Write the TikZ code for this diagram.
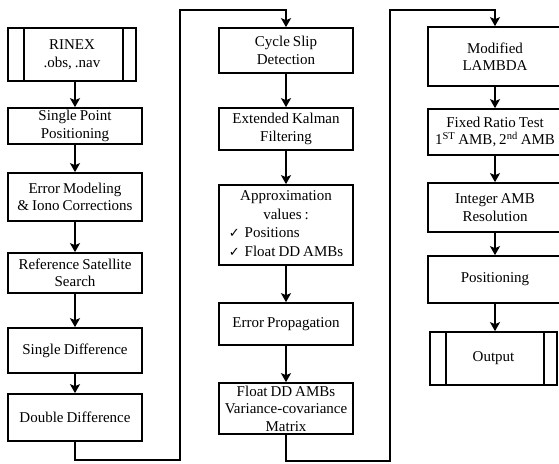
\documentclass[tikz,border=0pt]{standalone}
\usepackage{fontspec}
\setmainfont{Liberation Serif}
\newfontfamily\checkfont{DejaVu Sans}
\usetikzlibrary{arrows.meta}
\newcommand{\chk}{{\checkfont\fontsize{13}{17}\selectfont ✓}\hspace{5pt}}
\newcommand{\boxfont}{\fontsize{15}{17.5}\selectfont\setlength{\spaceskip}{3pt plus 1pt}}
\begin{document}
\begin{tikzpicture}[x=1pt,y=-1pt,
 box/.style={draw,line width=1.7pt,inner sep=0pt,align=center,minimum width=134pt,
   font=\boxfont},
 arr/.style={line width=2.4pt,-{Stealth[length=9pt,width=10pt,inset=2pt]}},
 sidebar/.style={line width=1.7pt}
]
\useasboundingbox (0,0) rectangle (559,463);

% column 1
\node[box, minimum width=128pt, minimum height=53pt] (rinex) at (72,54.5) {RINEX\\.obs, .nav};
\node[box, minimum height=36pt] (spp) at (75,126) {Single Point\\Positioning};
\node[box, minimum height=48pt] (err) at (75,197) {Error Modeling\\\& Iono Corrections};
\node[box, minimum height=40pt] (ref) at (75,273) {Reference Satellite\\Search};
\node[box, minimum height=45pt] (sd) at (75,350.5) {Single Difference};
\node[box, minimum height=47pt] (dd) at (75,417.5) {Double Difference};
\draw[sidebar] ([xshift=17pt]rinex.north west) -- ([xshift=17pt]rinex.south west);
\draw[sidebar] ([xshift=-14pt]rinex.north east) -- ([xshift=-14pt]rinex.south east);

% column 2
\node[box, minimum height=45pt] (cs) at (286,50.5) {Cycle Slip\\Detection};
\node[box, minimum height=42pt] (ekf) at (286,129) {Extended Kalman\\Filtering};
\node[box, minimum height=80pt] (apx) at (286,225) {\begin{tabular}{@{}l@{}}
  \multicolumn{1}{@{}c@{}}{Approximation}\\[1pt]
  \multicolumn{1}{@{}c@{}}{values :}\\[1pt]
  \chk Positions\\[1pt]
  \chk Float DD AMBs
\end{tabular}};
\node[box, minimum height=42pt] (ep) at (286,324) {Error Propagation};
\node[box, minimum height=51pt] (fdd) at (286,408.5) {Float DD AMBs\\Variance-covariance\\Matrix};

% column 3
\node[box, minimum height=59pt] (lam) at (495,56.5) {Modified\\LAMBDA};
\node[box, minimum height=46pt] (frt) at (495,132) {Fixed Ratio Test\\1\textsuperscript{ST} AMB, 2\textsuperscript{nd} AMB};
\node[box, minimum height=49pt] (int) at (495,207.5) {Integer AMB\\Resolution};
\node[box, minimum height=47pt] (pos) at (495,279.5) {Positioning};
\node[box, minimum width=127pt, minimum height=53pt] (out) at (493.5,358.5) {Output};
\draw[sidebar] ([xshift=17pt]out.north west) -- ([xshift=17pt]out.south west);
\draw[sidebar] ([xshift=-14pt]out.north east) -- ([xshift=-14pt]out.south east);

% arrows column 1
\draw[arr] (spp.north |- rinex.south) -- (spp.north);
\draw[arr] (spp) -- (err);
\draw[arr] (err) -- (ref);
\draw[arr] (ref) -- (sd);
\draw[arr] (sd) -- (dd);
% arrows column 2
\draw[arr] (cs) -- (ekf);
\draw[arr] (ekf) -- (apx);
\draw[arr] (apx) -- (ep);
\draw[arr] (ep) -- (fdd);
% arrows column 3
\draw[arr] (lam) -- (frt);
\draw[arr] (frt) -- (int);
\draw[arr] (int) -- (pos);
\draw[arr] (pos.south) -- (pos.south |- out.north);

% links between columns
\coordinate (b1) at (180,460);
\coordinate (t1) at (180,10);
\coordinate (b2) at (390,461);
\coordinate (t2) at (390,10);
\draw[arr] (dd.south) |- (b1) -- (t1) -| (cs.north);
\draw[arr] (fdd.south) |- (b2) -- (t2) -| (lam.north);
\end{tikzpicture}
\end{document}
